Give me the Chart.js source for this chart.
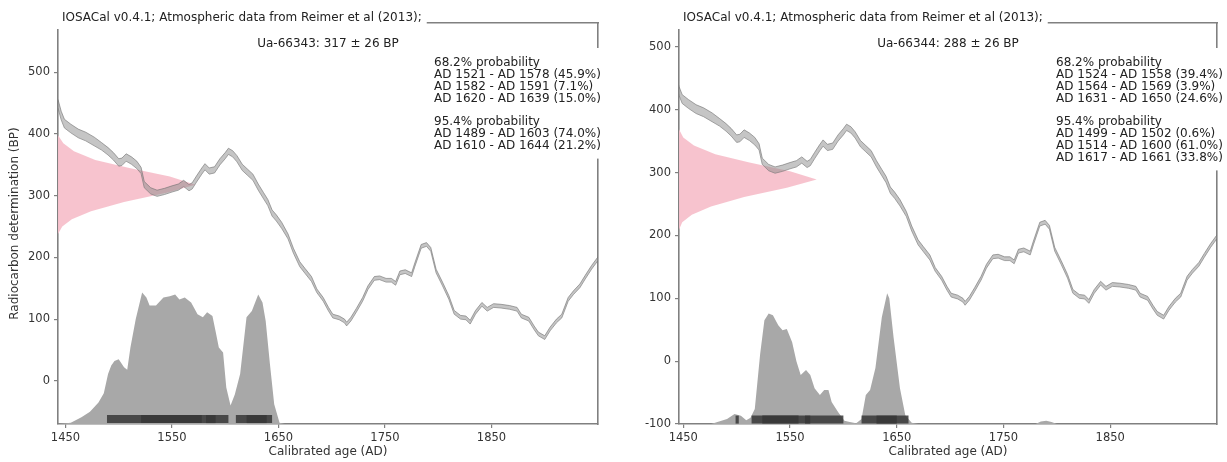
<!DOCTYPE html>
<html>
<head>
<meta charset="utf-8">
<script src="https://cdn.jsdelivr.net/npm/chart.js@4.4.1/dist/chart.umd.min.js"></script>
<style>
  body { margin: 0; background: #fff; }
  canvas { position: absolute; top: 0; }
  #left { left: 0; }
  #right { left: 613px; }
</style>
</head>
<body>
<canvas id="left" width="613" height="462"></canvas>
<canvas id="right" width="614" height="462"></canvas>
<script>
// calibration curve (IntCal13)
const calYears = [1443, 1446, 1449, 1455, 1462, 1469, 1477, 1484, 1490, 1495, 1500, 1503, 1507, 1512, 1517,
  1521, 1524, 1530, 1536, 1543, 1550, 1556, 1561, 1566, 1569, 1573, 1578, 1581, 1585, 1590, 1595, 1600,
  1603, 1607, 1611, 1616, 1621, 1626, 1631, 1636, 1640, 1644, 1648, 1653, 1659, 1664, 1670, 1675, 1681,
  1686, 1692, 1697, 1701, 1707, 1712, 1714, 1718, 1723, 1729, 1734, 1740, 1745, 1751, 1756, 1760, 1764,
  1769, 1775, 1778, 1784, 1789, 1793, 1798, 1804, 1810, 1815, 1821, 1826, 1830, 1835, 1841, 1846, 1852,
  1859, 1867, 1874, 1878, 1885, 1890, 1894, 1900, 1905, 1911, 1916, 1922, 1927, 1933, 1938, 1944, 1950];
const calBP = [449, 430, 417, 409, 401, 396, 388, 380, 372, 364, 354, 355, 362, 357, 350,
  341, 318, 308, 304, 307, 311, 314, 320, 313, 316, 327, 340, 347, 340, 342, 355, 365,
  372, 368, 360, 346, 338, 330, 314, 300, 289, 272, 264, 252, 234, 211, 189, 178, 165,
  146, 132, 116, 105, 102, 97, 92, 100, 114, 132, 151, 166, 167, 163, 163, 158, 175,
  177, 172, 188, 218, 221, 213, 178, 157, 135, 111, 103, 102, 95, 111, 124, 116, 122,
  121, 119, 116, 105, 100, 86, 76, 70, 84, 97, 105, 132, 143, 154, 168, 184, 198];
const calSigma = [7, 7, 7, 7, 7, 7, 7, 6, 6, 6, 6, 6, 6, 6, 6,
  5, 5, 5, 5, 5, 5, 5, 5, 5, 5, 5, 5, 5, 5, 5, 5, 5,
  5, 5, 5, 5, 5, 5, 5, 5, 5, 5, 5, 5, 4, 4, 4, 4, 4,
  3, 3, 3, 3, 3, 3, 3, 3, 3, 3, 3, 3, 3, 3, 3, 3, 3,
  3, 3, 3, 3, 3, 3, 3, 3, 3, 3, 3, 3, 3, 3, 3, 3, 3,
  3, 3, 3, 3, 3, 3, 3, 3, 3, 3, 3, 3, 3, 3, 3, 3, 3];

const xTicks = [1450, 1550, 1650, 1750, 1850];
const yTicksLeft = [0, 100, 200, 300, 400, 500];
const yTicksRight = [-100, 0, 100, 200, 300, 400, 500];

// Ua-66343
const leftPinkBP = [238, 250, 262, 275, 290, 305, 318, 331, 345, 358, 372, 385, 398];
const leftPinkYear = [1443, 1447, 1456, 1474, 1505, 1545, 1572, 1548, 1510, 1478, 1458, 1448, 1443];
const leftProbYears = [1443, 1455, 1465, 1473, 1481, 1486, 1490, 1493, 1496, 1500, 1505, 1508, 1511, 1516,
  1522, 1526, 1529, 1535, 1542, 1548, 1553, 1557, 1562, 1568, 1574, 1579, 1583, 1588, 1591, 1594, 1598,
  1601, 1605, 1609, 1614, 1620, 1625, 1631, 1635, 1638, 1642, 1646, 1651, 1656, 1950];
const leftProbBP = [-70, -68, -59, -50, -35, -20, 11, 25, 32, 35, 22, 18, 54, 100,
  143, 135, 122, 122, 135, 137, 140, 132, 135, 127, 108, 103, 111, 105, 80, 54, 46,
  -11, -40, -22, 11, 103, 113, 140, 127, 97, 27, -38, -68, -70, -70];
const leftHpd95 = [[1489, 1603], [1610, 1644]];
const leftHpd68 = [[1521, 1578], [1582, 1591], [1620, 1639]];
const leftStats = ['68.2% probability', 'AD 1521 - AD 1578 (45.9%)', 'AD 1582 - AD 1591 (7.1%)',
  'AD 1620 - AD 1639 (15.0%)', '', '95.4% probability', 'AD 1489 - AD 1603 (74.0%)', 'AD 1610 - AD 1644 (21.2%)'];

// Ua-66344
const rightPinkBP = [209, 221, 233, 246, 261, 276, 289, 302, 316, 329, 343, 356, 369];
const rightPinkYear = [1446, 1449, 1458, 1476, 1507, 1547, 1575, 1550, 1512, 1480, 1460, 1450, 1446];
const rightProbYears = [1446, 1476, 1491, 1498, 1504, 1509, 1513, 1517, 1522, 1526, 1530, 1534, 1539, 1543,
  1547, 1552, 1556, 1560, 1565, 1569, 1573, 1578, 1582, 1586, 1589, 1595, 1601, 1606, 1612, 1617, 1621,
  1625, 1630, 1636, 1641, 1643, 1647, 1653, 1658, 1664, 1670, 1780, 1785, 1790, 1795, 1800, 1950];
const rightProbBP = [-100, -100, -92, -84, -87, -94, -90, -76, 11, 65, 76, 73, 57, 49,
  51, 30, 0, -22, -14, -22, -43, -54, -46, -46, -65, -81, -95, -97, -99, -92, -54,
  -46, -11, 70, 108, 100, 38, -43, -86, -98, -100, -100, -96, -95, -97, -100, -100];
const rightHpd95 = [[1499, 1502], [1514, 1600], [1617, 1661]];
const rightHpd68 = [[1524, 1558], [1564, 1569], [1631, 1650]];
const rightStats = ['68.2% probability', 'AD 1524 - AD 1558 (39.4%)', 'AD 1564 - AD 1569 (3.9%)',
  'AD 1631 - AD 1650 (24.6%)', '', '95.4% probability', 'AD 1499 - AD 1502 (0.6%)',
  'AD 1514 - AD 1600 (61.0%)', 'AD 1617 - AD 1661 (33.8%)'];

const titleText = 'IOSACal v0.4.1; Atmospheric data from Reimer et al (2013);';
const FONT = 'DejaVu Sans';
const AXIS = '#808080';

const panelText = {
  id: 'panelText',
  afterDraw(chart, args, o) {
    const {ctx, chartArea: a} = chart;
    ctx.save();
    ctx.font = '12px "' + FONT + '"';
    ctx.textBaseline = 'middle';
    const tw = ctx.measureText(o.title).width;
    ctx.fillStyle = '#fff';
    ctx.fillRect(a.left - 1, 8, tw + 10, 21);
    ctx.fillStyle = '#222';
    ctx.textAlign = 'left';
    ctx.fillText(o.title, a.left + 4, 18);
    ctx.textAlign = 'center';
    ctx.fillText(o.label, (a.left + a.right) / 2, 44);

    const x0 = a.right - o.inset, y0 = 63, lh = 11.8;
    let w = 0;
    o.stats.forEach(s => { w = Math.max(w, ctx.measureText(s).width); });
    ctx.fillStyle = '#fff';
    ctx.fillRect(x0 - 4, y0 - 15, w + 8, lh * (o.stats.length - 1) + 28);
    ctx.fillStyle = '#222';
    ctx.textAlign = 'left';
    o.stats.forEach((s, i) => ctx.fillText(s, x0, y0 + i * lh));
    ctx.restore();
  }
};

function pts(xs, ys) { return xs.map((x, i) => ({x: x, y: ys[i]})); }

function barSets(list, y, color) {
  return list.map(r => ({
    data: [{x: r[0], y: y}, {x: r[1], y: y}],
    borderColor: color, borderWidth: 8, borderCapStyle: 'butt',
    pointRadius: 0, fill: false, order: 2
  }));
}

function makePanel(id, p) {
  const upper = calBP.map((v, i) => v + calSigma[i]);
  const lower = calBP.map((v, i) => v - calSigma[i]);
  const datasets = [
    {data: pts(calYears, upper), borderColor: 'rgba(110,110,110,0.6)', borderWidth: 1,
      backgroundColor: 'rgba(140,140,140,0.5)', fill: '+1', pointRadius: 0, order: 1},
    {data: pts(calYears, lower), borderColor: 'rgba(110,110,110,0.6)', borderWidth: 1,
      fill: false, pointRadius: 0, order: 1},
    {data: pts(p.pinkYear, p.pinkBP), borderWidth: 0, backgroundColor: 'rgba(247,192,203,0.95)',
      fill: 'shape', pointRadius: 0, order: 6},
    {data: pts(p.probYears, p.probBP), borderWidth: 0, backgroundColor: '#a8a8a8',
      fill: 'start', pointRadius: 0, order: 5}
  ].concat(barSets(p.hpd95, p.barY, 'rgba(55,55,55,0.85)'))
   .concat(barSets(p.hpd68, p.barY, 'rgba(0,0,0,0.6)'));

  const tickFont = {family: FONT, size: 11.5};
  const titleFont = {family: FONT, size: 12};
  new Chart(document.getElementById(id), {
    type: 'line',
    data: {datasets: datasets},
    plugins: [panelText],
    options: {
      responsive: false,
      animation: false,
      layout: {padding: {top: 23, right: p.padRight, left: 0, bottom: 0}},
      plugins: {
        legend: {display: false},
        tooltip: {enabled: false},
        panelText: {title: titleText, label: p.label, stats: p.stats, inset: p.inset}
      },
      scales: {
        x: {
          type: 'linear', min: p.xmin, max: 1950,
          afterBuildTicks: s => { s.ticks = xTicks.map(v => ({value: v})); },
          afterFit: s => { s.height = 38; },
          grid: {display: true, drawOnChartArea: false, drawTicks: true, tickLength: 4, color: AXIS, lineWidth: 1.2},
          border: {display: true, color: AXIS, width: 1.6},
          ticks: {color: '#333', font: tickFont, padding: 3, maxRotation: 0, autoSkip: false,
            callback: v => String(v)},
          title: {display: true, text: 'Calibrated age (AD)', color: '#333', font: titleFont, padding: {top: 0, bottom: 3}}
        },
        y: {
          type: 'linear', min: p.ymin, max: p.ymax,
          afterBuildTicks: s => { s.ticks = p.yTicks.map(v => ({value: v})); },
          afterFit: s => { s.width = p.yWidth; },
          grid: {display: true, drawOnChartArea: false, drawTicks: true, tickLength: 4, color: AXIS, lineWidth: 1.2},
          border: {display: true, color: AXIS, width: 1.6},
          ticks: {color: '#333', font: tickFont, padding: 4, callback: v => String(v)},
          title: {display: p.yTitle, text: 'Radiocarbon determination (BP)', color: '#333', font: titleFont, padding: {top: 8, bottom: 0}}
        },
        x2: {
          type: 'linear', position: 'top', min: p.xmin, max: 1950,
          afterFit: s => { s.height = 0; },
          ticks: {display: false}, grid: {display: false, drawTicks: false},
          border: {display: true, color: AXIS, width: 1.6}
        },
        y2: {
          type: 'linear', position: 'right', min: p.ymin, max: p.ymax,
          afterFit: s => { s.width = 0; },
          ticks: {display: false}, grid: {display: false, drawTicks: false},
          border: {display: true, color: AXIS, width: 1.6}
        }
      }
    }
  });
}

makePanel('left', {
  xmin: 1443, ymin: -70, ymax: 580, yTicks: yTicksLeft, yWidth: 58, padRight: 15, yTitle: true,
  pinkBP: leftPinkBP, pinkYear: leftPinkYear, probYears: leftProbYears, probBP: leftProbBP,
  hpd95: leftHpd95, hpd68: leftHpd68, barY: -62,
  label: 'Ua-66343: 317 \u00b1 26 BP', stats: leftStats, inset: 164
});
makePanel('right', {
  xmin: 1446, ymin: -100, ymax: 538, yTicks: yTicksRight, yWidth: 66, padRight: 10, yTitle: false,
  pinkBP: rightPinkBP, pinkYear: rightPinkYear, probYears: rightProbYears, probBP: rightProbBP,
  hpd95: rightHpd95, hpd68: rightHpd68, barY: -93,
  label: 'Ua-66344: 288 \u00b1 26 BP', stats: rightStats, inset: 161
});
</script>
</body>
</html>
